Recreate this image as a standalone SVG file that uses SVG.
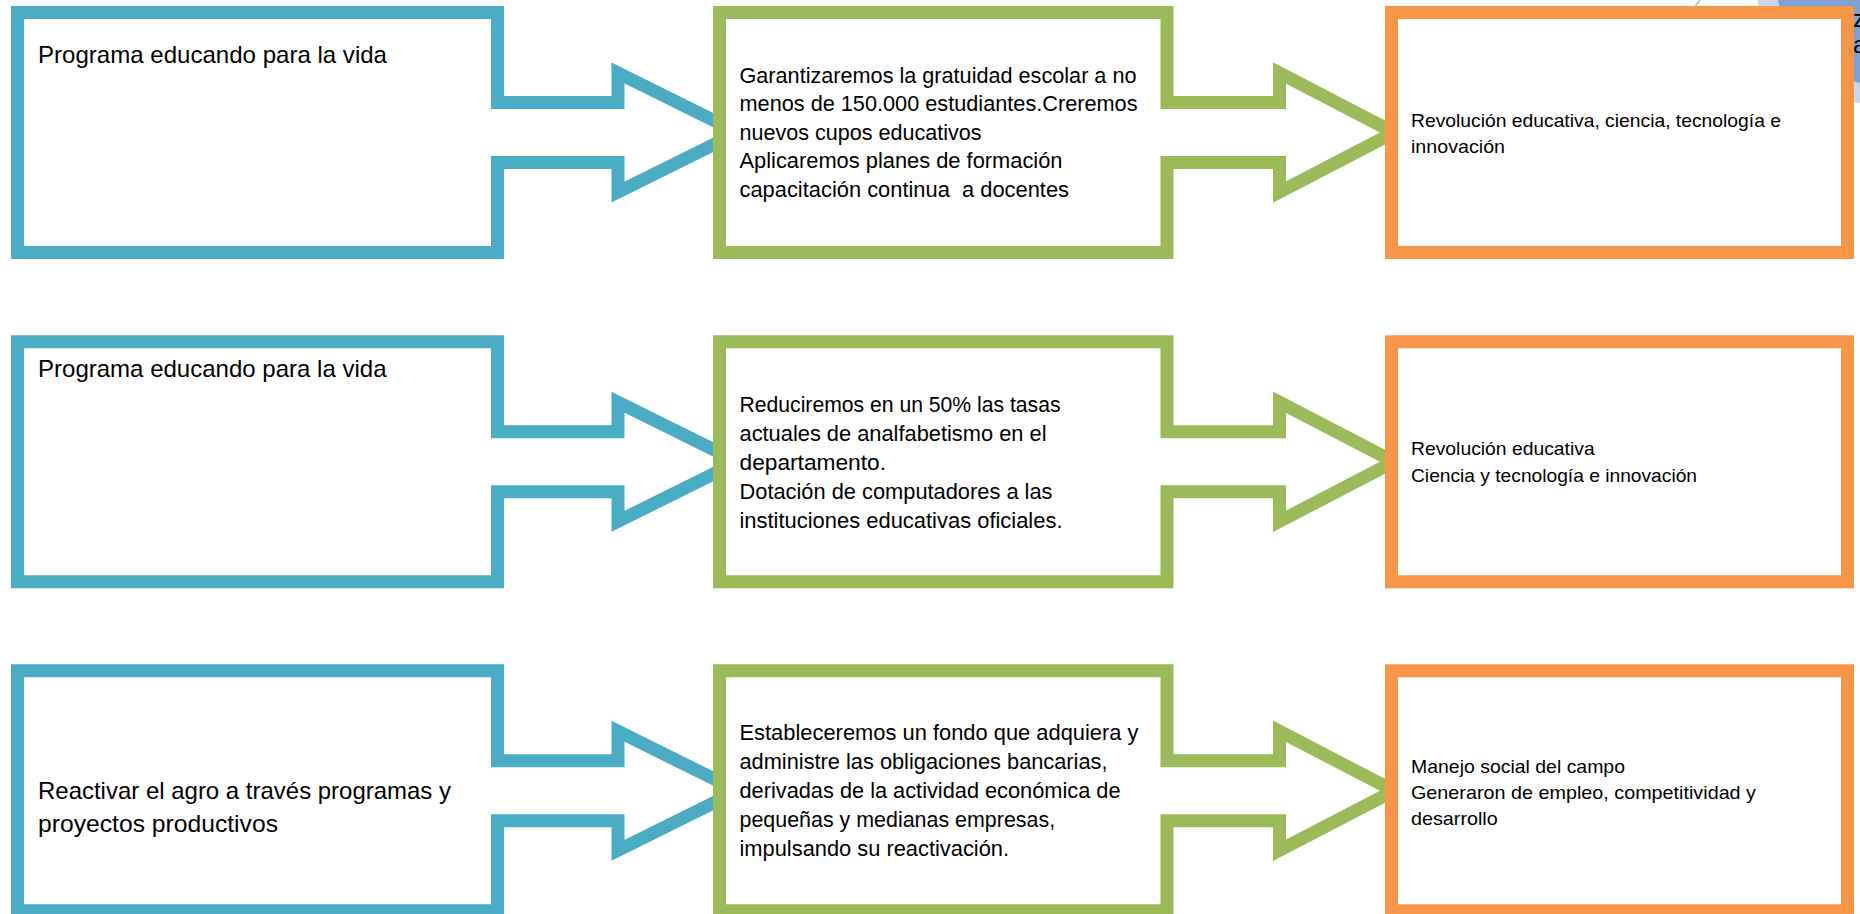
<svg xmlns="http://www.w3.org/2000/svg" xmlns:xlink="http://www.w3.org/1999/xlink" width="1860" height="914" viewBox="0 0 1860 914">
  <style>
    .shape { fill: #FFFFFF; stroke-width: 13; stroke-linejoin: miter; stroke-miterlimit: 10; }
    .blue { stroke: #4BACC6; }
    .green { stroke: #9BBB59; }
    .orange { stroke: #F79646; }
    text { font-family: "Liberation Sans", Arial, sans-serif; fill: #000000; }
    .tb { font-size: 24px; }
    .tg { font-size: 22px; }
    .to { font-size: 19px; }
  </style>
  <defs>
    <path id="blueShape" class="shape blue" d="M17.5,12.5 H497.5 V102.5 H618 V73 L738,132.5 L618,192 V162.5 H497.5 V252.5 H17.5 Z"/>
    <path id="greenShape" class="shape green" d="M719.5,12.5 H1167 V102.5 H1279.5 V73 L1394,132.5 L1279.5,192 V162.5 H1167 V252.5 H719.5 Z"/>
    <rect id="orangeShape" class="shape orange" x="1391.5" y="12.5" width="456" height="240"/>
  </defs>
  <rect x="0" y="0" width="1860" height="914" fill="#FFFFFF"/>

  <!-- clipped background decoration at top right -->
  <g id="background-decoration">
    <line x1="1693" y1="9" x2="1700" y2="0" stroke="#A9BFE3" stroke-width="1.5"/>
    <circle cx="1881" cy="-20" r="125" fill="#C9D7EC"/>
    <circle cx="1881" cy="-20" r="105" fill="#7DA1D2"/>
    <text x="1853" y="27" style="font-size:24px">z</text>
    <text x="1853" y="53" style="font-size:24px">a</text>
  </g>

  <!-- Row 1 -->
  <g id="row1-program">
    <use xlink:href="#blueShape"/>
    <text class="tb" x="38" y="62.5" textLength="349" lengthAdjust="spacingAndGlyphs">Programa educando para la vida</text>
  </g>
  <g id="row1-goals">
    <use xlink:href="#greenShape"/>
    <text class="tg" x="739.5" y="82.5" textLength="397" lengthAdjust="spacingAndGlyphs">Garantizaremos la gratuidad escolar a no</text>
    <text class="tg" x="739.5" y="111" textLength="398" lengthAdjust="spacingAndGlyphs">menos de 150.000 estudiantes.Creremos</text>
    <text class="tg" x="739.5" y="139.5" textLength="242" lengthAdjust="spacingAndGlyphs">nuevos cupos educativos</text>
    <text class="tg" x="739.5" y="168" textLength="323" lengthAdjust="spacingAndGlyphs">Aplicaremos planes de formación</text>
    <text class="tg" x="739.5" y="196.5" textLength="329.5" lengthAdjust="spacingAndGlyphs" xml:space="preserve" style="white-space:pre">capacitación continua  a docentes</text>
  </g>
  <g id="row1-axis">
    <use xlink:href="#orangeShape"/>
    <text class="to" x="1411" y="126.5" textLength="370" lengthAdjust="spacingAndGlyphs">Revolución educativa, ciencia, tecnología e</text>
    <text class="to" x="1411" y="152.5" textLength="94" lengthAdjust="spacingAndGlyphs">innovación</text>
  </g>

  <!-- Row 2 -->
  <g id="row2-program">
    <use xlink:href="#blueShape" y="329.3"/>
    <text class="tb" x="38" y="377.3" textLength="348.5" lengthAdjust="spacingAndGlyphs">Programa educando para la vida</text>
  </g>
  <g id="row2-goals">
    <use xlink:href="#greenShape" y="329.3"/>
    <text class="tg" x="739.5" y="411.5" textLength="321" lengthAdjust="spacingAndGlyphs">Reduciremos en un 50% las tasas</text>
    <text class="tg" x="739.5" y="440.5" textLength="307" lengthAdjust="spacingAndGlyphs">actuales de analfabetismo en el</text>
    <text class="tg" x="739.5" y="469.5" textLength="146.5" lengthAdjust="spacingAndGlyphs">departamento.</text>
    <text class="tg" x="739.5" y="498.5" textLength="313" lengthAdjust="spacingAndGlyphs">Dotación de computadores a las</text>
    <text class="tg" x="739.5" y="527.5" textLength="323" lengthAdjust="spacingAndGlyphs">instituciones educativas oficiales.</text>
  </g>
  <g id="row2-axis">
    <use xlink:href="#orangeShape" y="329.3"/>
    <text class="to" x="1411" y="455" textLength="183.7" lengthAdjust="spacingAndGlyphs">Revolución educativa</text>
    <text class="to" x="1411" y="481.5" textLength="286" lengthAdjust="spacingAndGlyphs">Ciencia y tecnología e innovación</text>
  </g>

  <!-- Row 3 -->
  <g id="row3-program">
    <use xlink:href="#blueShape" y="658.3"/>
    <text class="tb" x="38" y="799" textLength="413" lengthAdjust="spacingAndGlyphs">Reactivar el agro a través programas y</text>
    <text class="tb" x="38" y="831.5" textLength="240" lengthAdjust="spacingAndGlyphs">proyectos productivos</text>
  </g>
  <g id="row3-goals">
    <use xlink:href="#greenShape" y="658.3"/>
    <text class="tg" x="739.5" y="739.5" textLength="399" lengthAdjust="spacingAndGlyphs">Estableceremos un fondo que adquiera y</text>
    <text class="tg" x="739.5" y="768.5" textLength="368" lengthAdjust="spacingAndGlyphs">administre las obligaciones bancarias,</text>
    <text class="tg" x="739.5" y="797.5" textLength="381" lengthAdjust="spacingAndGlyphs">derivadas de la actividad económica de</text>
    <text class="tg" x="739.5" y="826.5" textLength="315.6" lengthAdjust="spacingAndGlyphs">pequeñas y medianas empresas,</text>
    <text class="tg" x="739.5" y="855.5" textLength="269.6" lengthAdjust="spacingAndGlyphs">impulsando su reactivación.</text>
  </g>
  <g id="row3-axis">
    <use xlink:href="#orangeShape" y="658.3"/>
    <text class="to" x="1411" y="773.3" textLength="214" lengthAdjust="spacingAndGlyphs">Manejo social del campo</text>
    <text class="to" x="1411" y="799.3" textLength="345" lengthAdjust="spacingAndGlyphs">Generaron de empleo, competitividad y</text>
    <text class="to" x="1411" y="825" textLength="86.7" lengthAdjust="spacingAndGlyphs">desarrollo</text>
  </g>
</svg>
